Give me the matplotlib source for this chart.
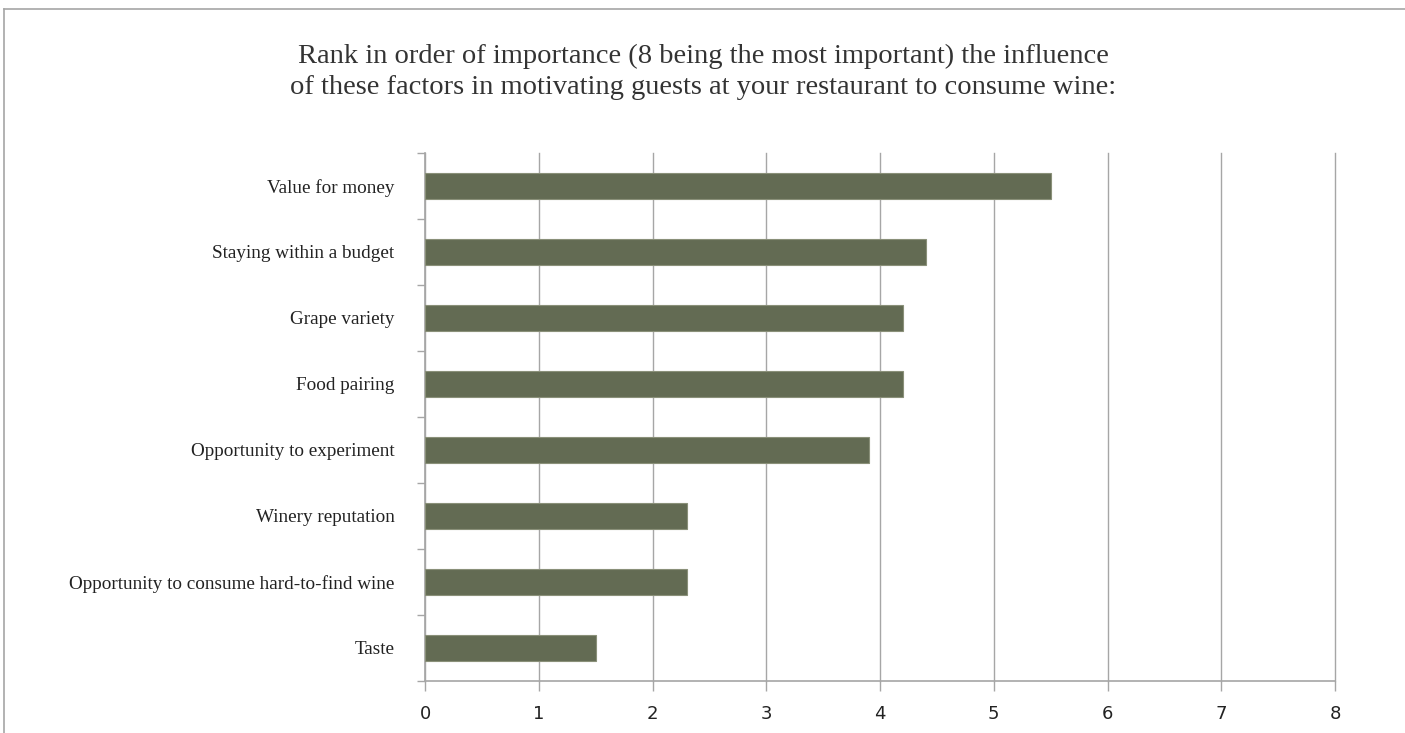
import matplotlib
matplotlib.use("Agg")
import matplotlib.pyplot as plt
from matplotlib.lines import Line2D

categories = ["Value for money", "Staying within a budget", "Grape variety", "Food pairing",
              "Opportunity to experiment", "Winery reputation",
              "Opportunity to consume hard-to-find wine", "Taste"]
values = [5.5, 4.4, 4.2, 4.2, 3.9, 2.3, 2.3, 1.5]
x_ticks = [0, 1, 2, 3, 4, 5, 6, 7, 8]
title = ("Rank in order of importance (8 being the most important) the influence\n"
         "of these factors in motivating guests at your restaurant to consume wine:")

W, H = 1405, 733
fig = plt.figure(figsize=(W / 100, H / 100), dpi=100)
ax = fig.add_axes([425 / W, 1 - 681 / H, (1335 - 425) / W, (681 - 153) / H])

n = len(categories)
ypos = list(range(n))[::-1]
ax.barh(ypos, values, height=0.4, color="#636b53", edgecolor="#8a9079", linewidth=0.8, zorder=3)
ax.set_xlim(0, 8)
ax.set_ylim(-0.5, n - 0.5)
ax.set_xticks(x_ticks)
ax.set_xticklabels([str(t) for t in x_ticks], family=["Liberation Sans Narrow", "DejaVu Sans"],
                   fontsize=13, color="#222222")
ax.set_yticks(ypos)
ax.set_yticklabels(categories, family="Liberation Serif", fontsize=13.8, color="#222222")
# y tick marks at category boundaries
ax.set_yticks([i - 0.5 for i in range(n + 1)], minor=True)
ax.tick_params(axis="y", which="major", length=0, pad=22)
ax.tick_params(axis="y", which="minor", length=6, color="#a6a6a6", width=1)
ax.tick_params(axis="x", length=7, color="#a6a6a6", width=1, pad=10)
ax.grid(axis="x", color="#a6a6a6", linewidth=1, zorder=0)
for gl in ax.get_xgridlines():
    gl.set_clip_on(False)
for s in ["top", "right"]:
    ax.spines[s].set_visible(False)
for s in ["left", "bottom"]:
    ax.spines[s].set_color("#a6a6a6")
    ax.spines[s].set_linewidth(1.2)

fig.text(703 / W, 1 - 72 / H, title, ha="center", va="center", family="Liberation Serif",
         fontsize=20.5, color="#333333", linespacing=1.32)

# outer frame lines (top and left)
fig.add_artist(Line2D([4 / W, 1], [1 - 9 / H, 1 - 9 / H], color="#a6a6a6", linewidth=1.2))
fig.add_artist(Line2D([4 / W, 4 / W], [0, 1 - 9 / H], color="#a6a6a6", linewidth=1.2))

fig.savefig("out.png", dpi=100)
